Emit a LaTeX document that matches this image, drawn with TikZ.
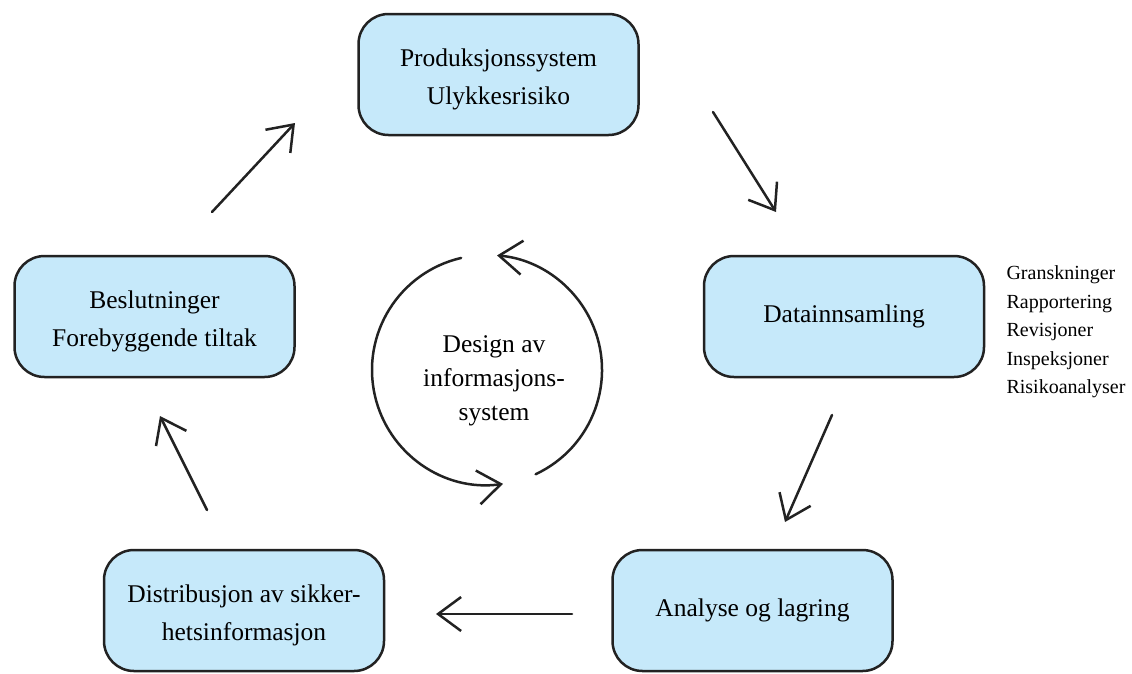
\documentclass[tikz,border=0pt]{standalone}
\usepackage{fontspec}
\setmainfont{Liberation Serif}
\usetikzlibrary{arrows.meta}
\definecolor{boxblue}{RGB}{198,233,250}
\definecolor{inkline}{RGB}{34,34,34}

\begin{document}
\begin{tikzpicture}[x=1pt,y=1pt,
  stage/.style={draw=inkline, fill=boxblue, rounded corners=30pt,
    line width=2.5pt, minimum width=280pt, minimum height=121pt,
    align=center, font=\fontsize{25.5}{38.5}\selectfont},
  twoline/.style={text height=66pt, text depth=5.5pt},
  flow/.style={-{Straight Barb[length=23pt,width=34pt]}, draw=inkline,
    line width=2.5pt, line cap=round}
]
\useasboundingbox (0,0) rectangle (1132,-673);

\node[stage, twoline] (prod) at (498.5,-74.5) {Produksjonssystem\\Ulykkesrisiko};
\node[stage] (data) at (844,-316.5) {Datainnsamling};
\node[stage] (anal) at (752.5,-610.5) {Analyse og lagring};
\node[stage, twoline] (dist) at (244,-610.5) {Distribusjon av sikker-\\hetsinformasjon};
\node[stage, twoline] (besl) at (154.5,-316.5) {Beslutninger\\Forebyggende tiltak};

\node[align=left, anchor=west, font=\fontsize{20}{28.5}\selectfont]
  (kilder) at (1003,-332) {Granskninger\\Rapportering\\Revisjoner\\Inspeksjoner\\Risikoanalyser};

% sirkel i midten
\node[circle, minimum size=230pt, inner sep=0pt, outer sep=0pt] (loop) at (487,-370) {};
\node[align=center, font=\fontsize{25.5}{34}\selectfont] (design) at (494,-381)
  {Design av\\informasjons-\\system};
\draw[flow] (loop.103) arc[start angle=103, end angle=278, radius=115];
\draw[flow] (loop.-65) arc[start angle=-65, end angle=85, radius=115];

% piler mellom boksene
\coordinate (p1a) at (713,-112);  \coordinate (p1b) at (776,-212);
\coordinate (p2a) at (832,-415);  \coordinate (p2b) at (785,-522);
\coordinate (p3a) at (572,-614);  \coordinate (p3b) at (436,-614);
\coordinate (p4a) at (207,-510);  \coordinate (p4b) at (160,-416);
\coordinate (p5a) at (212,-212);  \coordinate (p5b) at (295,-123);

\draw[flow] (p1a) -- (p1b);
\draw[flow] (p2a) -- (p2b);
\draw[flow] (p3a) -- (p3b);
\draw[flow] (p4a) -- (p4b);
\draw[flow] (p5a) -- (p5b);
\end{tikzpicture}
\end{document}
